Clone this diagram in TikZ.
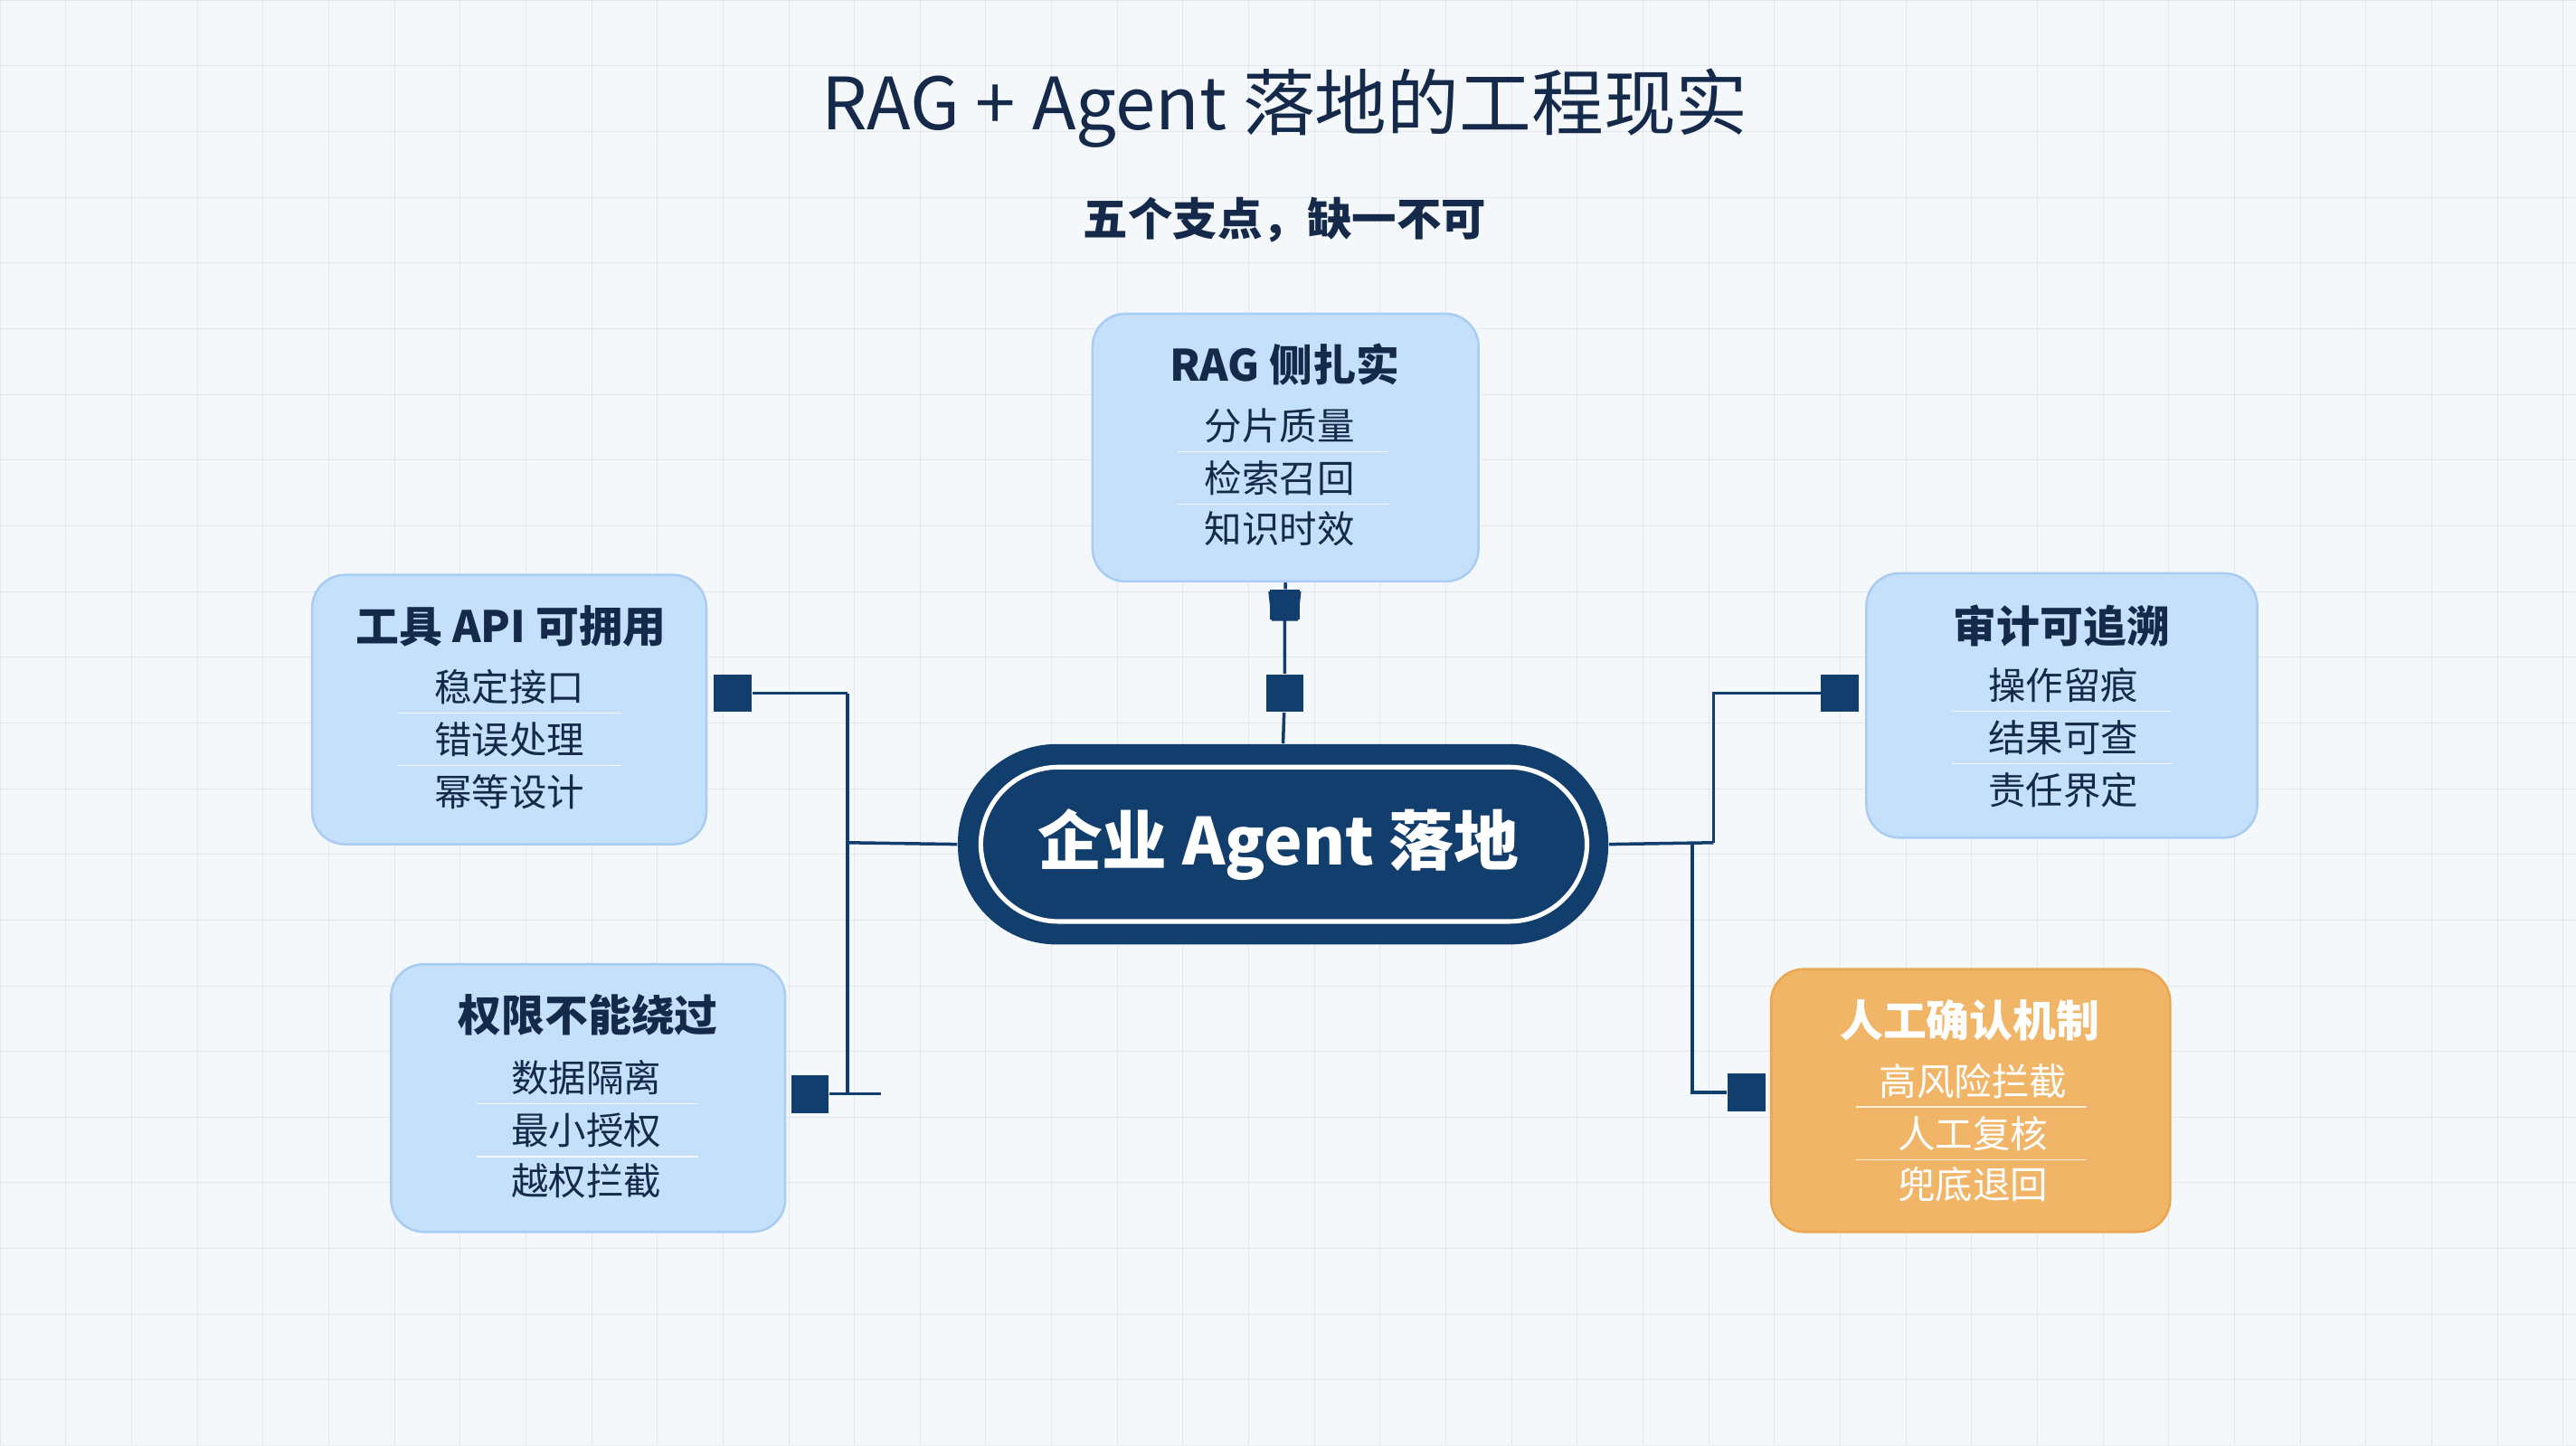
\documentclass[tikz,border=0pt]{standalone}
\usepackage{fontspec}
\setmainfont{Noto Sans CJK SC}
\usetikzlibrary{arrows.meta}
\definecolor{navy}{HTML}{123E6E}
\definecolor{ink}{HTML}{15294A}
\definecolor{boxfill}{HTML}{C4E0FB}
\definecolor{boxline}{HTML}{A9CDF2}
\definecolor{orangefill}{HTML}{F1B567}
\definecolor{orangeline}{HTML}{EAA650}
\definecolor{bg}{HTML}{F5F8FB}
\begin{document}
\begin{tikzpicture}[x=0.02cm,y=-0.02cm,
  card/.style={draw=boxline,line width=0.8pt,fill=boxfill,rounded corners=0.4cm},
  ocard/.style={draw=orangeline,line width=0.8pt,fill=orangefill,rounded corners=0.4cm},
  ctitle/.style={font=\fontsize{15}{18}\selectfont\bfseries,text=ink},
  citem/.style={font=\fontsize{13}{16}\selectfont,text=ink},
  otitle/.style={font=\fontsize{15}{18}\selectfont\bfseries,text=white},
  oitem/.style={font=\fontsize{13}{16}\selectfont,text=white},
  sep/.style={draw=white,line width=0.5pt,opacity=0.8},
  osep/.style={draw=white!85!orange,line width=0.5pt},
  link/.style={draw=navy,line width=1.1pt},
  sq/.style={fill=navy,minimum size=0.46cm,inner sep=0pt}]
\fill[bg] (0,0) rectangle (1568,880);
\useasboundingbox (0,0) rectangle (1568,880);
\foreach \x in {0,40,...,1560} \draw[white!88!blue!40!gray,line width=0.2pt,opacity=0.2] (\x,0)--(\x,880);
\foreach \y in {0,40,...,880} \draw[white!88!blue!40!gray,line width=0.2pt,opacity=0.2] (0,\y)--(1568,\y);

\node[font=\fontsize{25}{30}\selectfont,text=ink] (title) at (782,66) {RAG + Agent 落地的工程现实};
\node[font=\fontsize{15.5}{18}\selectfont\bfseries,text=ink] (sub) at (782,134) {五个支点，缺一不可};

% cards
\node[card,minimum width=4.7cm,minimum height=3.26cm] (top) at (782.5,272.5) {};
\node[ctitle] (topt) at (782,222) {RAG 侧扎实};
\node[citem] (top1) at (779,259) {分片质量};
\node[citem] (top2) at (779,291) {检索召回};
\node[citem] (top3) at (779,322) {知识时效};
\draw[sep] (717,275)--(845,275) (717,307)--(845,307);

\node[card,minimum width=4.8cm,minimum height=3.28cm] (lt) at (310,432) {};
\node[ctitle] (ltt) at (311,381) {工具 API 可拥用};
\node[citem] (lt1) at (310,418) {稳定接口};
\node[citem] (lt2) at (310,450) {错误处理};
\node[citem] (lt3) at (310,482) {幂等设计};
\draw[sep] (242,434)--(378,434) (242,466)--(378,466);

\node[card,minimum width=4.8cm,minimum height=3.26cm] (lb) at (358,668.5) {};
\node[ctitle] (lbt) at (358,618) {权限不能绕过};
\node[citem] (lb1) at (357,656) {数据隔离};
\node[citem] (lb2) at (357,688) {最小授权};
\node[citem] (lb3) at (357,719) {越权拦截};
\draw[sep] (290,672)--(425,672) (290,704)--(425,704);

\node[card,minimum width=4.76cm,minimum height=3.22cm] (rt) at (1255,429.5) {};
\node[ctitle] (rtt) at (1255,381) {审计可追溯};
\node[citem] (rt1) at (1256,417) {操作留痕};
\node[citem] (rt2) at (1256,449) {结果可查};
\node[citem] (rt3) at (1256,481) {责任界定};
\draw[sep] (1188,433)--(1322,433) (1188,465)--(1322,465);

\node[ocard,minimum width=4.86cm,minimum height=3.2cm] (rb) at (1199.5,670) {};
\node[otitle] (rbt) at (1199,621) {人工确认机制};
\node[oitem] (rb1) at (1201,658) {高风险拦截};
\node[oitem] (rb2) at (1201,690) {人工复核};
\node[oitem] (rb3) at (1201,721) {兜底退回};
\draw[osep] (1130,674)--(1270,674) (1130,706)--(1270,706);

% center
\node[fill=navy,rounded corners=1.2cm,minimum width=7.92cm,minimum height=2.44cm] (c) at (781,514) {};
\draw[white,line width=1.6pt,rounded corners=0.95cm] (597,467) rectangle (966,561);
\node[font=\fontsize{22.5}{27}\selectfont\bfseries,text=white] (ct) at (778,514) {企业 Agent 落地};

% connectors
\coordinate (lj) at (516,513);
\coordinate (rj) at (1043,513);
\coordinate (rj2) at (1030,513);
\node[sq] (s1) at (446,422) {};
\node[sq] (s2) at (493,666) {};
\node[sq] (s3) at (782,422) {};
\node[sq] (s4) at (1120,422) {};
\node[sq] (s5) at (1063,665) {};
\draw[link] (c.west) -- (lj);
\draw[link] (lj |- s1) -- (lj |- 666,666);
\draw[link] (s1) -- (lj |- s1);
\draw[link] (s2) -- (536,666);
\draw[link] (c.east) -- (rj);
\draw[link] (rj) -- (rj |- s4) -- (s4);
\draw[link] (rj2) -- (rj2 |- s5) -- (s5);
\draw[link] (c.north) -- (s3) -- (782,362);
\node[fill=navy,minimum width=0.36cm,minimum height=0.36cm,inner sep=0pt] (tip) at (782,368) {};
\fill[navy] (772,360)--(792,360)--(790,378)--(774,378)--cycle;
\draw[link] (tip) -- (top.south);
\end{tikzpicture}
\end{document}
